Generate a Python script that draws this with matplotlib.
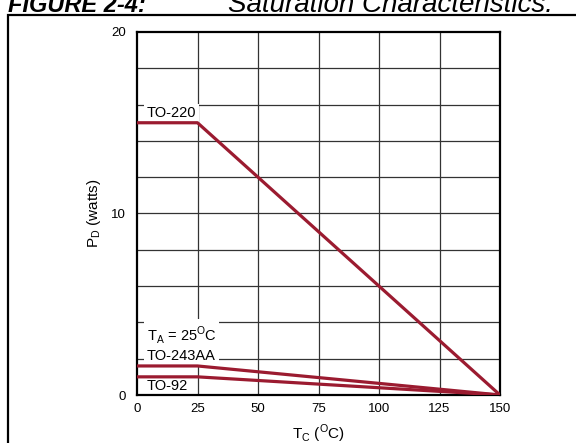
import matplotlib
matplotlib.use('Agg')
from matplotlib import pyplot as plt
from matplotlib.patches import Rectangle

plt.rcParams['font.family'] = ['Liberation Sans', 'DejaVu Sans']
plt.rcParams['mathtext.fontset'] = 'custom'
plt.rcParams['mathtext.rm'] = 'Liberation Sans'

# case temperature (C) and power dissipation (W) for each package
tc = [0, 25, 150]
pd_to220 = [15, 15, 0]
pd_to243aa = [1.6, 1.6, 0]
pd_to92 = [1.0, 1.0, 0]

x_ticks = [0, 25, 50, 75, 100, 125, 150]
y_ticks = [0, 10, 20]
x_grid = [25, 50, 75, 100, 125]
y_grid = [2, 4, 6, 8, 10, 12, 14, 16, 18]

W, H = 576, 443
fig = plt.figure(figsize=(W / 100, H / 100), dpi=100)
ax = fig.add_axes([137 / W, 1 - 395 / H, 363 / W, 363 / H])

red = '#9b1b30'
ax.plot(tc, pd_to220, color=red, lw=2.3, solid_capstyle='butt', zorder=3)
ax.plot(tc, pd_to243aa, color=red, lw=2.3, solid_capstyle='butt', zorder=3)
ax.plot(tc, pd_to92, color=red, lw=2.3, solid_capstyle='butt', zorder=3)

for g in x_grid:
    ax.axvline(g, color='#333333', lw=0.9, zorder=1)
for g in y_grid:
    ax.axhline(g, color='#333333', lw=0.9, zorder=1)

ax.set_xlim(0, 150)
ax.set_ylim(0, 20)
ax.set_xticks(x_ticks)
ax.set_yticks(y_ticks)
ax.tick_params(length=0, labelsize=9.5)
ax.tick_params(axis='x', pad=6)
ax.tick_params(axis='y', pad=8)
for s in ax.spines.values():
    s.set_linewidth(1.6)

ax.set_xlabel('T$_\\mathregular{C}$ ($^\\mathregular{O}$C)', fontsize=11, labelpad=5)
ax.set_ylabel('P$_\\mathregular{D}$ (watts)', fontsize=11, labelpad=6)

box = dict(facecolor='white', edgecolor='none', pad=2)
ax.text(4, 15.9, 'TO-220', fontsize=10.5, va='top', ha='left', bbox=box, zorder=2)
ax.text(4, 3.9, 'T$_\\mathregular{A}$ = 25$^\\mathregular{O}$C\nTO-243AA', fontsize=10.5,
        va='top', ha='left', linespacing=1.25, bbox=box, zorder=2)
ax.text(4, 0.9, 'TO-92', fontsize=10.5, va='top', ha='left', zorder=2)

# outer frame and caption
fig.patches.append(Rectangle((8 / W, -0.2), 1.2, 1.2 - 15 / H, transform=fig.transFigure,
                             fill=False, lw=1.6, edgecolor='black'))
fig.text(8 / W, 1 - 12 / H, 'FIGURE 2-4:', fontsize=17, fontweight='bold',
         fontstyle='italic', va='baseline')
fig.text(228 / W, 1 - 12 / H, 'Saturation Characteristics.', fontsize=20,
         fontstyle='italic', va='baseline')

fig.savefig('out.png', dpi=100)
